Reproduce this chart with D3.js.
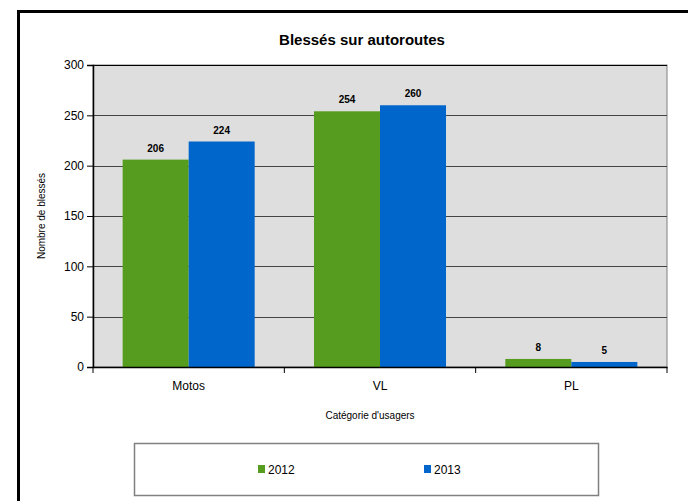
<!DOCTYPE html>
<html>
<head>
<meta charset="utf-8">
<script src="https://cdn.jsdelivr.net/npm/d3@7"></script>
<style>
  body { margin: 0; background: #fff; }
  text { font-family: "Liberation Sans", Arial, sans-serif; }
</style>
</head>
<body>
<div id="chart"></div>
<script>
let categories = ['Motos', 'VL', 'PL'];
let series = ['2012', '2013'];
let values2012 = [206, 254, 8];
let values2013 = [224, 260, 5];
let yTicks = [0, 50, 100, 150, 200, 250, 300];
let colors = ['#569c1e', '#0066cc'];

let width = 688, height = 501;
let margin = {left: 93, right: 21, top: 65, bottom: 134};
let plotW = width - margin.left - margin.right;
let plotH = height - margin.top - margin.bottom;
let font = '"Liberation Sans", Arial, sans-serif';

let svg = d3.select('#chart').append('svg')
    .attr('width', width)
    .attr('height', height);

// outer frame (only left and top visible)
svg.append('path')
    .attr('d', 'M18.5,501 L18.5,11.5 L688,11.5')
    .attr('fill', 'none')
    .attr('stroke', '#000')
    .attr('stroke-width', 3);

svg.append('text')
    .attr('x', 362).attr('y', 45)
    .attr('text-anchor', 'middle')
    .style('font-size', '15px')
    .style('font-weight', 'bold')
    .text('Blessés sur autoroutes');

let g = svg.append('g').attr('transform', `translate(${margin.left},${margin.top})`);

let yScale = d3.scaleLinear().domain([0, 300]).range([plotH, 0]);
let x0 = d3.scaleBand().domain(categories).range([0, plotW])
    .paddingInner(0.31).paddingOuter(0.155);
let x1 = d3.scaleBand().domain(series).range([0, x0.bandwidth()]);
let xCat = d3.scaleBand().domain(categories).range([0, plotW]);

g.append('rect')
    .attr('width', plotW).attr('height', plotH)
    .attr('fill', '#dedede')
    .attr('stroke', '#808080');

g.selectAll('.grid')
    .data(yTicks.filter(d => d > 0))
    .enter().append('line')
    .attr('x1', 0).attr('x2', plotW)
    .attr('y1', d => Math.round(yScale(d)) + 0.5)
    .attr('y2', d => Math.round(yScale(d)) + 0.5)
    .attr('stroke', d => d === 300 ? '#000' : '#444')
    .attr('stroke-width', 1);

let rows = categories.map((c, i) => ({cat: c, vals: [values2012[i], values2013[i]]}));

let grp = g.selectAll('.cat')
    .data(rows)
    .enter().append('g')
    .attr('transform', d => `translate(${x0(d.cat)},0)`);

grp.selectAll('rect')
    .data(d => d.vals.map((v, j) => ({s: series[j], v: v, j: j})))
    .enter().append('rect')
    .attr('x', d => x1(d.s))
    .attr('width', x1.bandwidth())
    .attr('y', d => yScale(d.v))
    .attr('height', d => plotH - yScale(d.v))
    .attr('fill', d => colors[d.j]);

grp.selectAll('.val')
    .data(d => d.vals.map((v, j) => ({s: series[j], v: v})))
    .enter().append('text')
    .attr('x', d => x1(d.s) + x1.bandwidth() / 2)
    .attr('y', d => yScale(d.v) - 8)
    .attr('text-anchor', 'middle')
    .style('font-size', '10px')
    .style('font-weight', 'bold')
    .text(d => d.v);

// y axis
let yAxis = g.append('g')
    .call(d3.axisLeft(yScale).tickValues(yTicks).tickSize(6).tickPadding(3));
yAxis.select('.domain').attr('stroke', '#000').attr('stroke-width', 1.5);
yAxis.selectAll('.tick line').attr('stroke', '#000');
yAxis.selectAll('text').style('font-size', '12px').attr('fill', '#000')
    .style('font-family', font);

// x axis
let xAxis = g.append('g')
    .attr('transform', `translate(0,${plotH})`)
    .call(d3.axisBottom(xCat).tickSize(0).tickPadding(14));
xAxis.select('.domain').attr('stroke', '#000').attr('stroke-width', 1.5);
xAxis.selectAll('text').style('font-size', '12px').attr('fill', '#000')
    .style('font-family', font);
xAxis.selectAll('.sep')
    .data(d3.range(categories.length + 1))
    .enter().append('line')
    .attr('x1', i => i * xCat.step()).attr('x2', i => i * xCat.step())
    .attr('y1', 0).attr('y2', 6)
    .attr('stroke', '#000');

svg.append('text')
    .attr('transform', `translate(45,${margin.top + plotH / 2}) rotate(-90)`)
    .attr('text-anchor', 'middle')
    .style('font-size', '10px')
    .text('Nombre de blessés');

svg.append('text')
    .attr('x', 370).attr('y', 419)
    .attr('text-anchor', 'middle')
    .style('font-size', '10px')
    .text("Catégorie d'usagers");

// legend
let leg = svg.append('g');
leg.append('rect')
    .attr('x', 134.5).attr('y', 443.5)
    .attr('width', 464).attr('height', 52)
    .attr('fill', '#fff')
    .attr('stroke', '#808080').attr('stroke-width', 1.5);
let legX = [258, 424];
series.forEach((s, i) => {
    leg.append('rect')
        .attr('x', legX[i]).attr('y', 465)
        .attr('width', 7).attr('height', 8)
        .attr('fill', colors[i]);
    leg.append('text')
        .attr('x', legX[i] + 10).attr('y', 474)
        .style('font-size', '12px')
        .text(s);
});
</script>
</body>
</html>
